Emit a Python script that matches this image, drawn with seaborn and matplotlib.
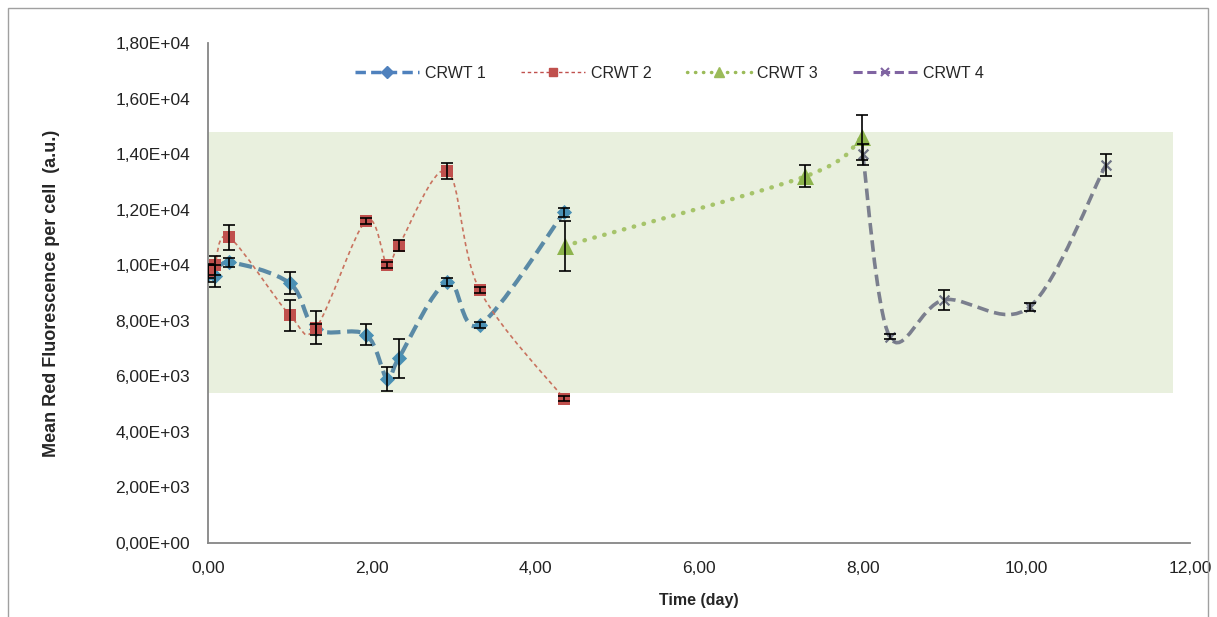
import numpy as np
import matplotlib
matplotlib.use("Agg")
import matplotlib.pyplot as plt
import seaborn as sns
from matplotlib.path import Path
from matplotlib.patches import PathPatch, Rectangle
from matplotlib.lines import Line2D
from matplotlib.ticker import FuncFormatter, MultipleLocator

# ── Data ──────────────────────────────────────────────────────────────────────
days_12   = [0.0, 0.08, 0.26, 1.00, 1.32, 1.93, 2.19, 2.33, 2.92, 3.32, 4.35]
crwt1     = [9700, 9600, 10100, 9350, 7700, 7500, 5900, 6650, 9400, 7850, 11900]
crwt1_err = [300, 400, 150, 400, 200, 380, 420, 700, 150, 100, 150]
crwt2     = [9800, 10000, 11000, 8200, 7750, 11600, 10000, 10700, 13400, 9100, 5200]
crwt2_err = [250, 350, 450, 560, 600, 100, 100, 200, 280, 100, 100]

days_3    = [4.36, 7.30, 7.99]
crwt3     = [10700, 13200, 14600]
crwt3_err = [900, 400, 800]

days_4    = [8.00, 8.33, 8.99, 10.04, 10.97]
crwt4     = [14000, 7430, 8750, 8500, 13600]
crwt4_err = [380, 100, 370, 150, 390]

band_x = [0.0, 11.79]        # shaded range, days
band_y = [5400, 14800]       # shaded range, a.u.

labels = ["CRWT 1", "CRWT 2", "CRWT 3", "CRWT 4"]

# ── Style ─────────────────────────────────────────────────────────────────────
sns.set_style("white")
plt.rcParams["font.family"] = ["Liberation Sans", "DejaVu Sans"]
AXIS = "#868686"


def smooth_path(xs, ys):
    # Excel-like smoothed line: Catmull-Rom as cubic Bezier segments
    pts = np.column_stack([xs, ys]).astype(float)
    verts, codes = [pts[0]], [Path.MOVETO]
    n = len(pts)
    for i in range(n - 1):
        p_prev = pts[i - 1] if i > 0 else pts[i]
        p_next = pts[i + 2] if i + 2 < n else pts[i + 1]
        c1 = pts[i] + (pts[i + 1] - p_prev) / 6
        c2 = pts[i + 1] - (p_next - pts[i]) / 6
        verts += [c1, c2, pts[i + 1]]
        codes += [Path.CURVE4] * 3
    return Path(verts, codes)


fig = plt.figure(figsize=(12.17, 6.17), dpi=100)
ax = fig.add_axes([208 / 1217, 74 / 617, 982 / 1217, 500 / 617])

ax.fill_between(band_x, band_y[0], band_y[1], color="#e9f0de", lw=0, zorder=0)

series = [
    (days_12, crwt1, crwt1_err, "#5a8aa6", "#4a90b4", "D", 60, 3.0, (0, (3.2, 1.6)), "butt"),
    (days_12, crwt2, crwt2_err, "#c9735f", "#c0504d", "s", 64, 1.2, (0, (2.5, 2.0)), "butt"),
    (days_3,  crwt3, crwt3_err, "#a6c46a", "#8db44c", "^", 150, 3.2, (0, (0.1, 2.2)), "round"),
    (days_4,  crwt4, crwt4_err, "#7b7f8e", "#6f7384", "x", 50, 2.6, (0, (3.2, 1.6)), "butt"),
]

for xs, ys, err, lc, mc, mk, ms, lw, ls, cap in series:
    ax.add_patch(PathPatch(smooth_path(xs, ys), fill=False, edgecolor=lc,
                           lw=lw, linestyle=ls, capstyle=cap, zorder=2))
    sns.scatterplot(x=xs, y=ys, marker=mk, s=ms, color=mc,
                    edgecolor=mc if mk != "x" else None,
                    linewidth=1.6 if mk == "x" else 0, ax=ax, zorder=3)
    ax.errorbar(xs, ys, yerr=err, fmt="none", ecolor="black",
                elinewidth=1.2, capsize=4, capthick=1.2, zorder=4)

# ── Axes ──────────────────────────────────────────────────────────────────────
ax.set_xlim(0, 12)
ax.set_ylim(0, 18000)
ax.xaxis.set_major_locator(MultipleLocator(2))
ax.yaxis.set_major_locator(MultipleLocator(2000))
ax.xaxis.set_major_formatter(FuncFormatter(lambda v, p: f"{v:.2f}".replace(".", ",")))
ax.yaxis.set_major_formatter(FuncFormatter(lambda v, p: f"{v:.2E}".replace(".", ",")))
for side in ["top", "right"]:
    ax.spines[side].set_visible(False)
for side in ["left", "bottom"]:
    ax.spines[side].set_color(AXIS)
    ax.spines[side].set_linewidth(1.3)
ax.tick_params(axis="both", direction="out", length=5, width=1.1, color=AXIS,
               labelsize=12.5, labelcolor="#222222")
ax.tick_params(axis="y", pad=8)
ax.tick_params(axis="x", pad=8)
ax.set_facecolor("white")

ax.set_xlabel("Time (day)", fontsize=11.5, fontweight="bold", labelpad=12)
fig.text(52 / 1217, 1 - 293 / 617, "Mean Red Fluorescence per cell  (a.u.)",
         rotation=90, ha="center", va="center", fontsize=13, fontweight="bold")

# ── Legend ────────────────────────────────────────────────────────────────────
handles = [
    Line2D([], [], color="#4f81bd", lw=2.5, ls=(0, (3, 1.5)), marker="D", markersize=6),
    Line2D([], [], color="#c0504d", lw=1.0, ls=(0, (2.5, 2)), marker="s", markersize=6),
    Line2D([], [], color="#9bbb59", lw=2.5, ls=(0, (0.1, 2.2)), dash_capstyle="round",
           marker="^", markersize=7),
    Line2D([], [], color="#8064a2", lw=2.2, ls=(0, (3, 1.5)), marker="x",
           markersize=6, markeredgewidth=1.5),
]
ax.legend(handles, labels, ncol=4, loc="center", bbox_to_anchor=(0.47, 0.94),
          frameon=False, fontsize=11.5, handlelength=4.0, columnspacing=2.2,
          handletextpad=0.4)

fig.add_artist(Rectangle((8 / 1217, -0.1), 1200 / 1217, 1.1 - 8 / 617,
                         transform=fig.transFigure, fill=False,
                         edgecolor="#a0a0a0", lw=1.0))

fig.savefig("out.png", dpi=100, facecolor="white")
